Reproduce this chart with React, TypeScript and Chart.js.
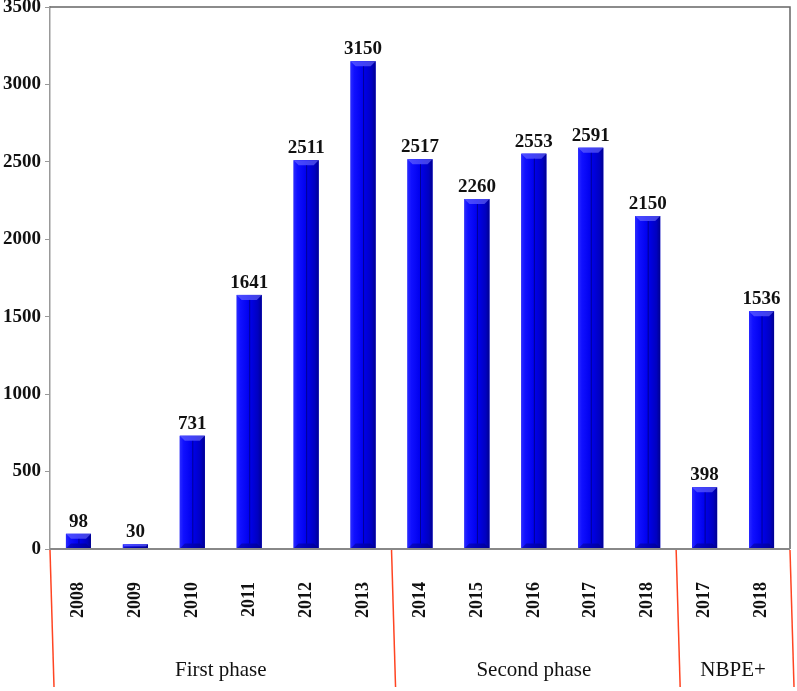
import React, { useEffect, useRef } from "react";
import { Chart, registerables } from "chart.js";

Chart.register(...registerables);

const categories = ["2008", "2009", "2010", "2011", "2012", "2013", "2014", "2015", "2016", "2017", "2018", "2017", "2018"];
const values = [98, 30, 731, 1641, 2511, 3150, 2517, 2260, 2553, 2591, 2150, 398, 1536];
const groupLabels = ["First phase", "Second phase", "NBPE+"];
const groupStarts = [0, 6, 11];
const groupEnds = [5, 10, 12];
const yTicks = [0, 500, 1000, 1500, 2000, 2500, 3000, 3500];

const SERIF = "'Liberation Serif', 'Times New Roman', serif";

const decorPlugin = {
  id: "decor",
  beforeDatasetsDraw(chart: any) {
    const { ctx, chartArea } = chart;
    ctx.save();
    ctx.strokeStyle = "#666";
    ctx.lineWidth = 1.5;
    ctx.beginPath();
    ctx.moveTo(chartArea.left, chartArea.top);
    ctx.lineTo(chartArea.right, chartArea.top);
    ctx.lineTo(chartArea.right, chartArea.bottom);
    ctx.stroke();
    ctx.restore();
  },
  afterDatasetsDraw(chart: any) {
    const { ctx, chartArea } = chart;
    const meta = chart.getDatasetMeta(0);
    const xs = chart.scales.x;
    ctx.save();
    meta.data.forEach((bar: any) => {
      const p = bar.getProps(["x", "y", "base", "width"], true);
      const l = p.x - p.width / 2;
      const r = p.x + p.width / 2;
      const t = p.y;
      const b = p.base;
      const h = b - t;
      const g = ctx.createLinearGradient(l, 0, r, 0);
      g.addColorStop(0, "#2a2aff");
      g.addColorStop(0.15, "#1010ff");
      g.addColorStop(0.5, "#0000ee");
      g.addColorStop(0.85, "#0000c0");
      g.addColorStop(1, "#000090");
      ctx.fillStyle = g;
      ctx.fillRect(l, t, r - l, h);
      const bev = Math.min(5, h / 2);
      ctx.fillStyle = "rgba(120,120,255,0.55)";
      ctx.beginPath();
      ctx.moveTo(l, t);
      ctx.lineTo(r, t);
      ctx.lineTo(r - bev, t + bev);
      ctx.lineTo(l + bev, t + bev);
      ctx.closePath();
      ctx.fill();
      ctx.fillStyle = "rgba(0,0,120,0.45)";
      ctx.beginPath();
      ctx.moveTo(l, b);
      ctx.lineTo(r, b);
      ctx.lineTo(r - bev, b - bev);
      ctx.lineTo(l + bev, b - bev);
      ctx.closePath();
      ctx.fill();
      if (h > 2 * bev + 2) {
        ctx.strokeStyle = "rgba(0,0,90,0.6)";
        ctx.lineWidth = 1;
        ctx.beginPath();
        ctx.moveTo(p.x + 0.5, t + bev);
        ctx.lineTo(p.x + 0.5, b - bev);
        ctx.stroke();
      }
    });
    ctx.fillStyle = "#111";
    ctx.font = `bold 19px ${SERIF}`;
    ctx.textAlign = "center";
    ctx.textBaseline = "alphabetic";
    meta.data.forEach((bar: any, i: number) => {
      const p = bar.getProps(["x", "y"], true);
      ctx.fillText(String(values[i]), p.x, p.y - 7);
    });
    ctx.strokeStyle = "#888";
    ctx.lineWidth = 2;
    ctx.beginPath();
    ctx.moveTo(chartArea.left, chartArea.bottom);
    ctx.lineTo(chartArea.right, chartArea.bottom);
    ctx.stroke();
    ctx.strokeStyle = "#ff4422";
    ctx.lineWidth = 1.5;
    const seps: number[] = [groupStarts[0] - 0.5];
    groupEnds.forEach((e) => seps.push(e + 0.5));
    seps.forEach((s) => {
      const x = xs.getPixelForValue(s);
      ctx.beginPath();
      ctx.moveTo(x, chartArea.bottom + 1);
      ctx.lineTo(x + 4, chartArea.bottom + 138);
      ctx.stroke();
    });
    ctx.fillStyle = "#111";
    ctx.font = `21px ${SERIF}`;
    ctx.textAlign = "center";
    ctx.textBaseline = "middle";
    groupLabels.forEach((lab, i) => {
      const x = xs.getPixelForValue((groupStarts[i] + groupEnds[i]) / 2);
      ctx.fillText(lab, x, chartArea.bottom + 121);
    });
    ctx.restore();
  },
};

export default function App() {
  const ref = useRef<HTMLCanvasElement>(null);
  useEffect(() => {
    if (!ref.current) return;
    const chart = new Chart(ref.current, {
      type: "bar",
      data: {
        labels: categories,
        datasets: [
          {
            data: values,
            backgroundColor: "#0000ee",
            borderWidth: 0,
            barPercentage: 0.44,
            categoryPercentage: 1,
          },
        ],
      },
      options: {
        animation: false,
        responsive: false,
        maintainAspectRatio: false,
        layout: { padding: { left: 0, top: 7, right: 7, bottom: 0 } },
        plugins: { legend: { display: false }, tooltip: { enabled: false } },
        scales: {
          x: {
            grid: { display: false, drawTicks: false },
            border: { display: false },
            ticks: {
              minRotation: 90,
              maxRotation: 90,
              padding: 33,
              color: "#111",
              font: { family: SERIF, size: 18, weight: "bold" },
            },
            afterFit: (s: any) => {
              s.height = 142;
              s.paddingLeft = 0;
              s.paddingRight = 0;
            },
          },
          y: {
            min: 0,
            max: 3500,
            afterBuildTicks: (s: any) => {
              s.ticks = yTicks.map((v) => ({ value: v }));
            },
            grid: { drawOnChartArea: false, tickLength: 5, color: "#999" },
            border: { display: true, color: "#999", width: 1.5 },
            ticks: {
              padding: 4,
              color: "#111",
              font: { family: SERIF, size: 19, weight: "bold" },
              callback: (v: any) => String(v),
            },
            afterFit: (s: any) => {
              s.width = 50;
              s.paddingTop = 0;
              s.paddingBottom = 0;
            },
          },
        },
      },
      plugins: [decorPlugin],
    });
    return () => chart.destroy();
  }, []);
  return (
    <div style={{ position: "fixed", left: 0, top: 0, width: 797, height: 691, background: "#fff" }}>
      <canvas ref={ref} width={797} height={691} />
    </div>
  );
}
